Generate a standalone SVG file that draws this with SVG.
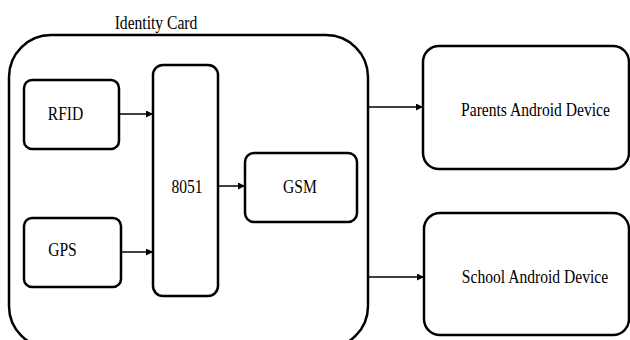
<svg xmlns="http://www.w3.org/2000/svg" width="630" height="340" viewBox="0 0 630 340">
<style>
.box{fill:#fff;stroke:#000;stroke-width:2.5}
.t{font-family:"Liberation Serif",serif;font-size:19.5px;fill:#000;text-anchor:middle}
.c{stroke:#000;stroke-width:1.5;fill:none}
</style>
<defs>
<marker id="ah" viewBox="0 0 10 10" refX="10" refY="5" markerWidth="7" markerHeight="7" markerUnits="userSpaceOnUse" orient="auto">
<path d="M0,0 L10,5 L0,10 z" fill="#000"/>
</marker>
</defs>
<rect width="630" height="340" fill="#fff"/>
<g id="card">
<rect class="box" x="9" y="35" width="359" height="313" rx="42" ry="42"/>
<text class="t" transform="translate(156,29) scale(0.8,1)">Identity Card</text>
</g>
<g id="rfid">
<rect class="box" x="24" y="80" width="95" height="69" rx="8"/>
<text class="t" transform="translate(65.5,120) scale(0.8,1)">RFID</text>
</g>
<g id="gps">
<rect class="box" x="24" y="218" width="97" height="69" rx="8"/>
<text class="t" transform="translate(62.5,256) scale(0.8,1)">GPS</text>
</g>
<g id="mcu">
<rect class="box" x="153" y="65" width="65" height="231" rx="10"/>
<text class="t" transform="translate(187,193) scale(0.8,1)">8051</text>
</g>
<g id="gsm">
<rect class="box" x="245" y="153" width="112" height="69" rx="9"/>
<text class="t" transform="translate(300,193) scale(0.8,1)">GSM</text>
</g>
<g id="parents">
<rect class="box" x="423" y="46" width="206" height="123" rx="16"/>
<text class="t" transform="translate(535.5,116) scale(0.8,1)">Parents Android Device</text>
</g>
<g id="school">
<rect class="box" x="424" y="213" width="205" height="122" rx="16"/>
<text class="t" transform="translate(535,283) scale(0.8,1)">School Android Device</text>
</g>
<g id="connectors">
<line class="c" x1="119" y1="114" x2="153" y2="114" marker-end="url(#ah)"/>
<line class="c" x1="121" y1="252" x2="153" y2="252" marker-end="url(#ah)"/>
<line class="c" x1="218" y1="186" x2="245" y2="186" marker-end="url(#ah)"/>
<line class="c" x1="368" y1="107" x2="423" y2="107" marker-end="url(#ah)"/>
<line class="c" x1="368" y1="277" x2="424" y2="277" marker-end="url(#ah)"/>
</g>
</svg>
